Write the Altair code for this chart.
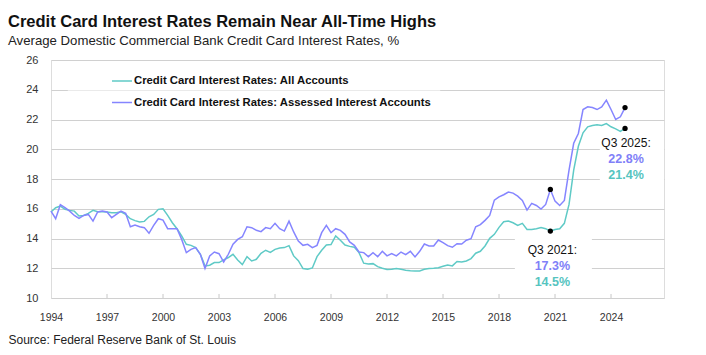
import altair as alt
import pandas as pd

FONT = "Liberation Sans"

# ---------------- data (quarterly, first observation = Q4 1994) ----------------
FIRST_YEAR = 1994
all_accounts = [
    15.78, 16.07, 16.18, 15.96, 15.89, 15.84, 15.51, 15.55, 15.69, 15.89,
    15.80, 15.80, 15.78, 15.73, 15.73, 15.80, 15.62, 15.33, 15.20, 15.11,
    15.15, 15.46, 15.62, 15.96, 16.00, 15.55, 15.06, 14.66, 14.17, 13.61,
    13.54, 13.39, 12.94, 12.16, 12.20, 12.38, 12.38, 12.56, 12.72, 12.94,
    12.56, 12.25, 12.78, 12.49, 12.60, 13.00, 13.21, 13.07, 13.27, 13.36,
    13.39, 13.52, 12.83, 12.51, 11.98, 11.93, 12.02, 12.78, 13.21, 13.56,
    13.59, 14.17, 13.88, 13.56, 13.47, 13.41, 13.05, 12.34, 12.29, 12.31,
    12.11, 12.00, 11.91, 11.93, 11.98, 11.93, 11.87, 11.84, 11.82, 11.82,
    11.93, 11.98, 12.00, 12.04, 12.13, 12.22, 12.16, 12.45, 12.42, 12.49,
    12.65, 13.01, 13.14, 13.50, 14.01, 14.28, 14.75, 15.13, 15.17, 15.06,
    14.88, 15.02, 14.61, 14.61, 14.66, 14.73, 14.66, 14.50, 14.61, 14.66,
    15.02, 16.29, 18.60, 20.20, 21.11, 21.51, 21.60, 21.64, 21.60, 21.73,
    21.51, 21.37, 21.20, 21.40,
]
assessed = [
    15.84, 15.33, 16.27, 16.07, 15.84, 15.55, 15.35, 15.55, 15.62, 15.17,
    15.78, 15.84, 15.78, 15.40, 15.62, 15.84, 15.69, 14.79, 14.91, 14.79,
    14.73, 14.35, 14.88, 15.33, 15.24, 14.66, 14.66, 14.66, 13.94, 13.05,
    13.27, 13.39, 12.94, 11.98, 12.83, 13.09, 12.98, 12.42, 12.94, 13.61,
    13.94, 14.12, 14.79, 14.73, 14.55, 14.46, 14.73, 14.66, 15.02, 14.66,
    14.50, 15.17, 14.44, 13.83, 13.54, 13.61, 13.39, 13.54, 14.39, 14.88,
    14.39, 14.66, 14.55, 14.28, 13.77, 13.54, 13.09, 13.05, 12.78, 13.05,
    12.78, 13.14, 12.83, 12.98, 12.83, 13.09, 12.92, 13.14, 12.76, 13.14,
    13.63, 13.50, 13.50, 13.90, 13.72, 13.52, 13.41, 13.65, 13.63, 13.88,
    13.99, 14.79, 14.93, 15.22, 15.55, 16.58, 16.80, 16.94, 17.12, 17.05,
    16.85, 16.56, 15.91, 16.36, 16.22, 15.98, 16.29, 17.30, 16.51, 16.22,
    16.56, 18.60, 20.40, 21.06, 22.67, 22.85, 22.80, 22.67, 22.85, 23.30,
    22.67, 22.00, 22.18, 22.80,
]
SERIES = [
    "Credit Card Interest Rates: All Accounts",
    "Credit Card Interest Rates: Assessed Interest Accounts",
]
COLORS = ["#5FCAC6", "#8585FF"]
tick_years = [1994, 1997, 2000, 2003, 2006, 2009, 2012, 2015, 2018, 2021, 2024]
y_ticks = [10, 12, 14, 16, 18, 20, 22, 24, 26]
callout_names = ["Q3 2021:", "Q3 2025:"]
callout_idx = [107, 123]

TITLE = "Credit Card Interest Rates Remain Near All-Time Highs"
SUBTITLE = "Average Domestic Commercial Bank Credit Card Interest Rates, %"
SOURCE = "Source: Federal Reserve Bank of St. Louis"

# ---------------- tables ----------------
rows = []
for i, (a, b) in enumerate(zip(all_accounts, assessed)):
    rows.append({"idx": i, "value": a, "series": SERIES[0]})
    rows.append({"idx": i, "value": b, "series": SERIES[1]})
df = pd.DataFrame(rows)

tick_idx = [(y - FIRST_YEAR) * 4 for y in tick_years]
X_MAX = 131.35
x_scale = alt.Scale(domain=[0, X_MAX], nice=False, zero=False)
y_scale = alt.Scale(domain=[10, 26], nice=False, zero=False)

x_axis = alt.Axis(
    values=tick_idx,
    labelExpr=f"'' + ({FIRST_YEAR} + datum.value / 4)",
    grid=False, ticks=False, tickSize=0, domain=False,
    labelFont=FONT, labelFontSize=10.5, labelColor="#333333", labelPadding=14,
    labelFlush=False,
    title=SOURCE, titleX=-43, titleY=41, titleAlign="left", titleAnchor="start",
    titleBaseline="middle", titleFont=FONT, titleFontSize=12,
    titleFontWeight="normal", titleColor="#222222",
)
y_axis = alt.Axis(
    values=y_ticks, grid=True, gridColor="#d0d0d0", gridWidth=1.2,
    ticks=True, tickSize=13, tickOpacity=0, domain=False,
    labelFont=FONT, labelFontSize=11, labelColor="#333333", labelPadding=0,
    title=None,
)


def X(f="idx"):
    return alt.X(f"{f}:Q", scale=x_scale, axis=x_axis)


def Y(f="value"):
    return alt.Y(f"{f}:Q", scale=y_scale, axis=y_axis)


# white backgrounds behind the call-out texts and the legend (drawn first)
legbox_df = pd.DataFrame({"x0": [3.6], "x1": [83.4], "y0": [22.3], "y1": [25.8]})
legbox_layer = alt.Chart(legbox_df).mark_rect(color="white", opacity=0.55).encode(
    x=X("x0"), x2="x1:Q", y=Y("y0"), y2="y1:Q"
)
box_df = pd.DataFrame({
    "x0": [99.4, 117.6], "x1": [115.9, X_MAX],
    "y0": [10.54, 17.66], "y1": [14.17, 20.96],
})
box_layer = alt.Chart(box_df).mark_rect(color="white").encode(
    x=X("x0"), x2="x1:Q", y=Y("y0"), y2="y1:Q"
)

# inward tick marks on the x axis
ticks_df = pd.DataFrame({"idx": tick_idx[1:], "y0": 10.0, "y1": 10.27})
tick_layer = alt.Chart(ticks_df).mark_rule(color="#c8c8c8", strokeWidth=1).encode(
    x=X(), y=Y("y0"), y2="y1:Q"
)

lines = alt.Chart(df).mark_line(strokeWidth=1.5).encode(
    x=X(), y=Y(),
    color=alt.Color(
        "series:N",
        scale=alt.Scale(domain=SERIES, range=COLORS),
        sort=SERIES,
        legend=alt.Legend(
            title=None, orient="none", legendX=60, legendY=10,
            symbolType="stroke", symbolSize=400, symbolStrokeWidth=1.5,
            labelFont=FONT, labelFontSize=11.3, labelFontWeight="bold",
            labelColor="#111111", labelOffset=1, rowPadding=4.5, padding=0,
            labelLimit=500,
        ),
    ),
)

dots_df = df[df["idx"].isin(callout_idx)]
dots = alt.Chart(dots_df).mark_circle(size=28, color="black", opacity=1).encode(
    x=X(), y=Y()
)

layers = [legbox_layer, box_layer, tick_layer, lines, dots]
callout_style = {107: (2, 19), 123: (1, 15)}
for name, i in zip(callout_names, callout_idx):
    dx, dy = callout_style[i]
    cdf = pd.DataFrame({
        "idx": [i], "value": [all_accounts[i]], "head": [name],
        "p": [f"{assessed[i]:.1f}%"], "t": [f"{all_accounts[i]:.1f}%"],
    })
    base = alt.Chart(cdf)
    layers.append(base.mark_text(font=FONT, fontSize=12, color="#111111", dx=dx, dy=dy,
                                 align="center", baseline="middle").encode(x=X(), y=Y(), text="head:N"))
    layers.append(base.mark_text(font=FONT, fontSize=12.5, fontWeight="bold", color="#8080F8",
                                 dx=dx, dy=dy + 16, align="center", baseline="middle").encode(x=X(), y=Y(), text="p:N"))
    layers.append(base.mark_text(font=FONT, fontSize=12.5, fontWeight="bold", color="#56C4BF",
                                 dx=dx, dy=dy + 32, align="center", baseline="middle").encode(x=X(), y=Y(), text="t:N"))

chart = alt.layer(*layers).properties(
    width=613, height=238,
    title=alt.TitleParams(
        text=TITLE, subtitle=SUBTITLE, anchor="start", frame="group", dx=-43, offset=7,
        font=FONT, fontSize=16.5, fontWeight="bold", color="#111111",
        subtitleFont=FONT, subtitleFontSize=13.2, subtitleColor="#222222", subtitlePadding=4,
    ),
    autosize=alt.AutoSizeParams(type="none"),
    padding={"left": 51, "top": 60, "right": 42, "bottom": 57},
).configure_view(stroke="#d0d0d0", strokeWidth=1.5).configure(background="white")

chart.save("out.html", embed_options={"renderer": "svg", "actions": False})
